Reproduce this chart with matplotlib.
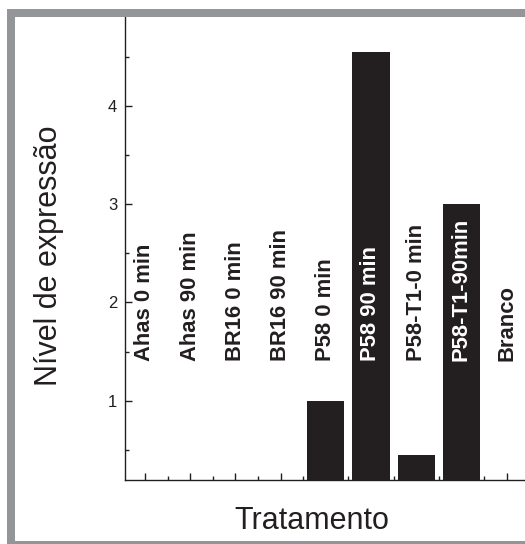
import matplotlib
matplotlib.use("Agg")
import matplotlib.pyplot as plt
from matplotlib.patches import Rectangle
from matplotlib.ticker import MultipleLocator

plt.rcParams['font.family'] = ['Liberation Sans', 'DejaVu Sans']

# Data
tratamentos = ["Ahas 0 min", "Ahas 90 min", "BR16 0 min", "BR16 90 min",
               "P58 0 min", "P58 90 min", "P58-T1-0 min", "P58-T1-90min", "Branco"]
expressao = [0, 0, 0, 0, 1.0, 4.55, 0.45, 3.0, 0]

dark = '#231f20'
W, H = 525, 544
fig = plt.figure(figsize=(W / 100, H / 100), dpi=100)

# gray frame around the picture (right side runs off the image)
fig.patches.append(Rectangle((11 / W, -1 / H), 1.2, 532.2 / H, transform=fig.transFigure,
                             fill=False, edgecolor='#939598', linewidth=8 * 72 / 100))

ax = fig.add_axes([125 / W, 64 / H, 400 / W, 463.3 / H])
x = list(range(len(tratamentos)))
ax.bar(x, expressao, width=0.82, color=dark, zorder=1)

for i, (lab, v) in enumerate(zip(tratamentos, expressao)):
    ax.text(i, 1.40, lab, rotation=90, ha='center', va='bottom', fontsize=15.8,
            fontweight='bold', color='white' if v > 2.9 else dark, zorder=3)

ax.set_xlim(-0.442, 8.407)
ax.set_ylim(0.193, 4.906)
ax.set_xticks(x)
ax.set_xticklabels([])
ax.xaxis.set_minor_locator(MultipleLocator(1, offset=0.5))
ax.yaxis.set_major_locator(MultipleLocator(1))
ax.yaxis.set_minor_locator(MultipleLocator(0.5))

ax.tick_params(axis='both', which='major', direction='in', length=5, width=1, color=dark)
ax.tick_params(axis='both', which='minor', direction='in', length=3, width=1, color=dark)
ax.tick_params(axis='y', which='major', labelsize=12, labelcolor=dark, pad=5.5)
ax.tick_params(top=False, right=False, which='both')

for s in ['top', 'right']:
    ax.spines[s].set_visible(False)
for s in ['left', 'bottom']:
    ax.spines[s].set_color(dark)
    ax.spines[s].set_linewidth(1.0)

fig.text(311.8 / W, 15 / H, "Tratamento", ha='center', va='baseline', fontsize=22, color=dark)
fig.text(49 / W, (H - 255.8) / H, "Nível de expressão", rotation=90, ha='center', va='center',
         fontsize=22, color=dark)

fig.savefig("out.png", dpi=100)
